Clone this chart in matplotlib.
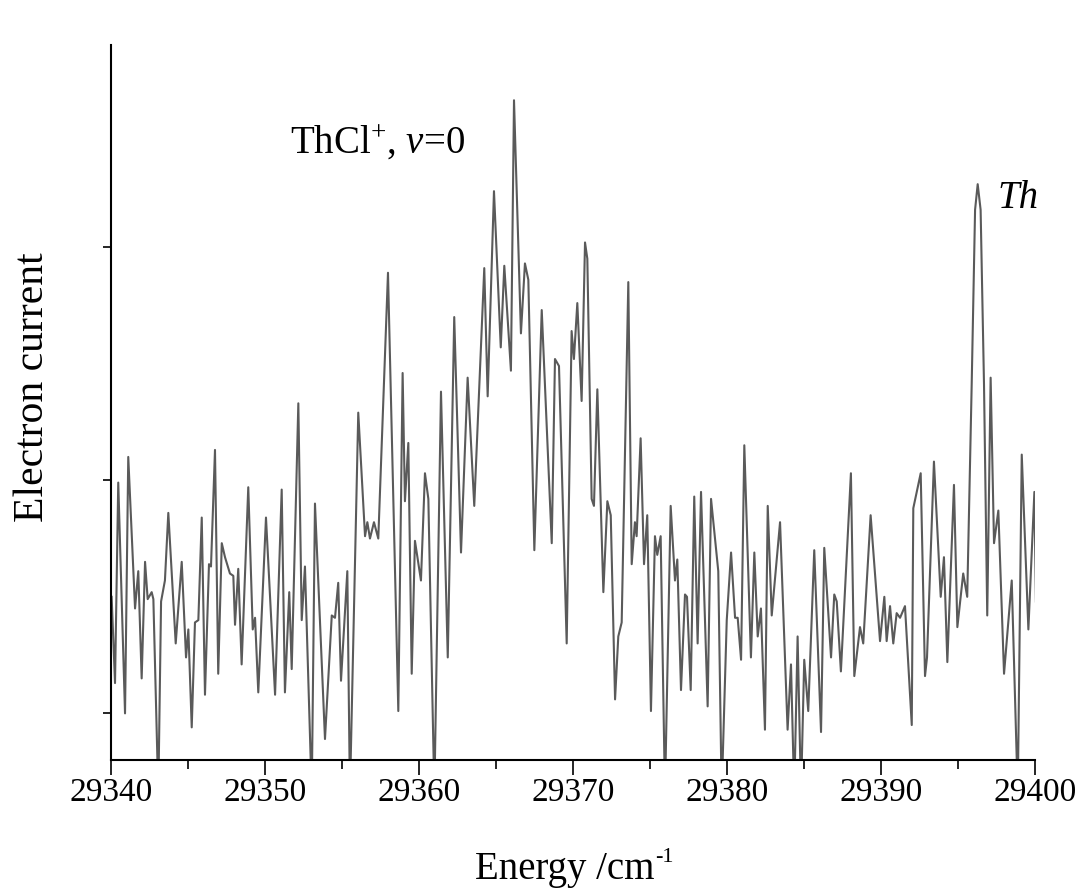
import matplotlib
matplotlib.use("Agg")
import matplotlib.pyplot as plt
from matplotlib.ticker import MultipleLocator

plt.rcParams['font.family'] = ['Liberation Serif', 'DejaVu Serif']
plt.rcParams['mathtext.fontset'] = 'custom'
plt.rcParams['mathtext.rm'] = 'Liberation Serif'
plt.rcParams['mathtext.it'] = 'Liberation Serif:italic'

# Photoelectron scan: photon energy (cm^-1) and electron current (arb. units)
energy = [
    29340.06, 29340.28, 29340.49, 29340.93, 29341.14, 29341.58, 29341.79, 29342.01,
    29342.23, 29342.40, 29342.66, 29342.77, 29343.09, 29343.27, 29343.52, 29343.74,
    29344.22, 29344.61, 29344.89, 29345.04, 29345.26, 29345.47, 29345.69, 29345.91,
    29346.12, 29346.38, 29346.51, 29346.77, 29346.98, 29347.21, 29347.42, 29347.74,
    29347.96, 29348.07, 29348.28, 29348.50, 29348.93, 29349.22, 29349.37, 29349.58,
    29350.08, 29350.67, 29351.10, 29351.31, 29351.59, 29351.75, 29352.18, 29352.40,
    29352.61, 29353.05, 29353.26, 29353.91, 29354.35, 29354.56, 29354.77, 29354.95,
    29355.36, 29355.53, 29356.07, 29356.51, 29356.66, 29356.83, 29357.09, 29357.37,
    29358.00, 29358.67, 29358.95, 29359.10, 29359.32, 29359.54, 29359.75, 29360.14,
    29360.40, 29360.62, 29361.01, 29361.44, 29361.88, 29362.30, 29362.74, 29363.17,
    29363.60, 29364.25, 29364.47, 29364.88, 29365.32, 29365.55, 29365.98, 29366.18,
    29366.63, 29366.89, 29367.11, 29367.50, 29367.98, 29368.63, 29368.84, 29369.10,
    29369.60, 29369.92, 29370.07, 29370.29, 29370.57, 29370.79, 29370.94, 29371.22,
    29371.37, 29371.59, 29371.98, 29372.24, 29372.46, 29372.74, 29372.95, 29373.17,
    29373.60, 29373.82, 29374.03, 29374.14, 29374.40, 29374.62, 29374.83, 29375.07,
    29375.33, 29375.48, 29375.70, 29375.98, 29376.35, 29376.63, 29376.78, 29377.02,
    29377.28, 29377.41, 29377.65, 29377.88, 29378.10, 29378.32, 29378.75, 29378.97,
    29379.44, 29379.66, 29379.99, 29380.27, 29380.53, 29380.70, 29380.92, 29381.13,
    29381.56, 29381.78, 29382.00, 29382.21, 29382.47, 29382.65, 29382.91, 29383.45,
    29383.94, 29384.16, 29384.37, 29384.59, 29384.81, 29385.02, 29385.28, 29385.67,
    29386.11, 29386.32, 29386.76, 29386.97, 29387.13, 29387.40, 29388.05, 29388.27,
    29388.64, 29388.85, 29389.33, 29389.94, 29390.22, 29390.37, 29390.59, 29390.80,
    29391.02, 29391.24, 29391.56, 29392.00, 29392.10, 29392.58, 29392.86, 29392.99,
    29393.44, 29393.88, 29394.09, 29394.31, 29394.74, 29394.96, 29395.34, 29395.60,
    29395.89, 29396.11, 29396.28, 29396.47, 29396.69, 29396.90, 29397.12, 29397.34,
    29397.62, 29397.99, 29398.49, 29398.88, 29399.14, 29399.57, 29399.96, 29400.06,
]
current = [
    0.50, 0.13, 0.99, 0.00, 1.10, 0.45, 0.61, 0.15,
    0.65, 0.49, 0.52, 0.49, -0.35, 0.48, 0.57, 0.86,
    0.30, 0.65, 0.24, 0.36, -0.06, 0.39, 0.40, 0.84,
    0.08, 0.64, 0.63, 1.13, 0.17, 0.73, 0.67, 0.60,
    0.59, 0.38, 0.62, 0.21, 0.97, 0.36, 0.41, 0.09,
    0.84, 0.08, 0.96, 0.09, 0.52, 0.19, 1.33, 0.40,
    0.63, -0.35, 0.90, -0.11, 0.42, 0.41, 0.56, 0.14,
    0.61, -0.35, 1.29, 0.76, 0.82, 0.75, 0.82, 0.75,
    1.89, 0.01, 1.46, 0.91, 1.16, 0.17, 0.74, 0.57,
    1.03, 0.92, -0.35, 1.38, 0.24, 1.70, 0.69, 1.44,
    0.89, 1.91, 1.36, 2.24, 1.57, 1.92, 1.47, 2.63,
    1.63, 1.93, 1.86, 0.70, 1.73, 0.73, 1.52, 1.49,
    0.30, 1.64, 1.52, 1.76, 1.34, 2.02, 1.95, 0.92,
    0.89, 1.39, 0.52, 0.91, 0.85, 0.06, 0.33, 0.39,
    1.85, 0.64, 0.82, 0.76, 1.18, 0.64, 0.85, 0.01,
    0.76, 0.68, 0.76, -0.35, 0.89, 0.57, 0.66, 0.10,
    0.51, 0.50, 0.10, 0.93, 0.30, 0.95, 0.03, 0.92,
    0.61, -0.35, 0.40, 0.69, 0.41, 0.41, 0.23, 1.15,
    0.24, 0.69, 0.33, 0.45, -0.07, 0.89, 0.42, 0.82,
    -0.07, 0.21, -0.35, 0.33, -0.35, 0.23, 0.01, 0.70,
    -0.08, 0.71, 0.24, 0.51, 0.48, 0.18, 1.03, 0.16,
    0.37, 0.30, 0.85, 0.31, 0.50, 0.31, 0.46, 0.30,
    0.43, 0.41, 0.46, -0.05, 0.88, 1.03, 0.16, 0.24,
    1.08, 0.50, 0.67, 0.22, 0.98, 0.37, 0.60, 0.50,
    1.41, 2.16, 2.27, 2.16, 1.41, 0.42, 1.44, 0.73,
    0.87, 0.17, 0.57, -0.35, 1.11, 0.36, 0.95, 0.48,
]

x_ticks = [29340, 29350, 29360, 29370, 29380, 29390, 29400]
y_ticks = [0, 1, 2]

W, H, DPI = 1088, 892, 100
fig = plt.figure(figsize=(W / DPI, H / DPI), dpi=DPI)
ax_l, ax_r, ax_t, ax_b = 110.7, 1035.0, 45.0, 760.0
ax = fig.add_axes([ax_l / W, 1 - ax_b / H, (ax_r - ax_l) / W, (ax_b - ax_t) / H])

ax.plot(energy, current, color='#5a5a5a', lw=1.5, solid_joinstyle='round')

ax.set_xlim(29340, 29400)
ax.set_ylim(-0.20, 2.867)
ax.set_xticks(x_ticks)
ax.set_xticklabels([str(t) for t in x_ticks])
ax.xaxis.set_minor_locator(MultipleLocator(5))
ax.set_yticks(y_ticks)
ax.set_yticklabels([])

for side in ('top', 'right'):
    ax.spines[side].set_visible(False)
for side in ('left', 'bottom'):
    ax.spines[side].set_linewidth(1.5)
    ax.spines[side].set_color('black')

ax.tick_params(axis='x', which='major', direction='out', length=10.5, width=1.2,
               labelsize=24, pad=2)
ax.tick_params(axis='x', which='minor', direction='out', length=6.5, width=1.2)
ax.tick_params(axis='y', which='major', direction='out', length=6, width=1.2)

# x-axis title with a small raised "-1" unit exponent
xlab = fig.text(475 / W, 1 - 870 / H, 'Energy /cm', fontsize=28,
                ha='left', va='center')
renderer = fig.canvas.get_renderer()
bb = xlab.get_window_extent(renderer)
fig.text((bb.x1 + 1) / W, 1 - 857 / H, '-1', fontsize=16,
         ha='left', va='center')

fig.text(33 / W, 1 - 387 / H, 'Electron current', fontsize=30, rotation=90,
         ha='center', va='center')

ax.text((290 - ax_l) / (ax_r - ax_l), (ax_b - 154) / (ax_b - ax_t),
        r'ThCl$^{+}$, $\mathit{v}$=0', transform=ax.transAxes,
        fontsize=28, ha='left', va='baseline')
ax.text((997 - ax_l) / (ax_r - ax_l), (ax_b - 208) / (ax_b - ax_t),
        'Th', transform=ax.transAxes, fontsize=28, style='italic',
        ha='left', va='baseline')

fig.savefig('out.png', dpi=DPI)
